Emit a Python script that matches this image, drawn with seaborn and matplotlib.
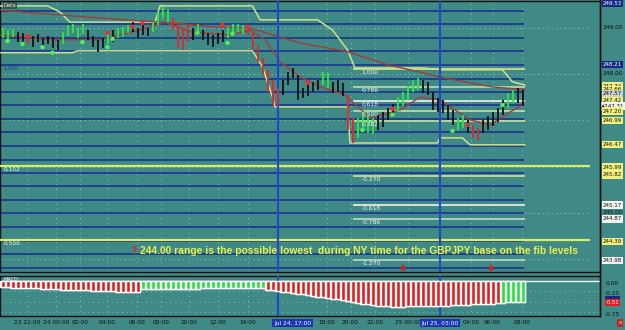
import numpy as np
import pandas as pd
import matplotlib
matplotlib.use("Agg")
import matplotlib.pyplot as plt
import matplotlib.transforms as mtransforms
import seaborn as sns

# ---------------- data ----------------
bar_high = [248.99, 248.95, 248.97, 248.91, 248.89, 248.84, 248.82, 248.87, 248.78, 248.82,
            248.80, 248.74, 248.91, 249.06, 249.08, 248.99, 249.08, 248.95, 248.82, 248.74,
            248.78, 248.89, 248.95, 248.99, 249.02, 249.06, 249.12, 248.99, 249.06, 248.99,
            249.12, 249.34, 249.45, 249.38, 249.21, 249.12, 248.99, 249.06, 248.99, 249.08,
            248.95, 248.89, 248.84, 248.89, 248.95, 249.02, 249.08, 249.08, 249.06, 249.02,
            248.89, 248.63, 248.35, 248.09, 247.87, 247.70, 247.87, 248.04, 248.13, 247.98,
            247.70, 247.76, 247.83, 247.87, 248.04, 248.02, 247.83, 247.87, 247.81, 247.55,
            247.05, 247.05, 247.18, 247.12, 247.05, 247.12, 247.18, 247.27, 247.35, 247.50,
            247.61, 247.74, 247.87, 247.92, 247.87, 247.83, 247.61, 247.48, 247.44, 247.33,
            247.22, 247.05, 247.12, 247.01, 246.90, 246.84, 247.01, 247.09, 247.18, 247.27,
            247.44, 247.59, 247.66, 247.70, 247.66]
bar_low = [248.78, 248.74, 248.80, 248.69, 248.63, 248.65, 248.58, 248.69, 248.61, 248.65,
           248.56, 248.52, 248.65, 248.82, 248.89, 248.78, 248.87, 248.74, 248.58, 248.48,
           248.56, 248.65, 248.69, 248.78, 248.80, 248.89, 248.91, 248.78, 248.84, 248.82,
           248.91, 249.06, 249.21, 249.12, 248.95, 248.56, 248.52, 248.69, 248.74, 248.87,
           248.74, 248.63, 248.58, 248.65, 248.69, 248.78, 248.87, 248.91, 248.87, 248.84,
           248.52, 248.26, 247.98, 247.61, 247.33, 247.31, 247.55, 247.76, 247.92, 247.44,
           247.48, 247.53, 247.61, 247.66, 247.76, 247.70, 247.59, 247.61, 247.53, 246.79,
           246.51, 246.62, 246.84, 246.73, 246.71, 246.79, 246.86, 247.01, 247.07, 247.18,
           247.31, 247.44, 247.61, 247.66, 247.59, 247.55, 247.22, 247.18, 247.16, 247.01,
           246.90, 246.79, 246.84, 246.73, 246.62, 246.58, 246.73, 246.79, 246.88, 246.96,
           247.12, 247.27, 247.38, 247.38, 247.31]
bar_trend = "GGGKKRKKKKKKGGGGGKKKKGKGGGKKKKGGGGRRRRKGKKKKKGGGGRRRRRRRKKKKKKKKGGKKKRRGGGGKKKKGGGGGKKKKKKKGGKRRKKKKKGGKK"

green_dot_i = [1, 4, 8, 10, 16, 21, 22, 39, 45, 46, 72, 78, 90, 100]
green_dot_p = [248.71, 248.65, 248.58, 248.46, 248.69, 248.58, 248.76, 248.89, 248.67, 248.87,
               246.79, 247.12, 246.77, 247.33]
red_dot_i = [5, 21, 26, 28, 44, 49, 61, 78, 93]
red_dot_p = [248.82, 248.89, 249.02, 249.10, 249.06, 249.02, 247.81, 247.25, 246.90]

slow_ma_i = [-0.5, 6, 19.5, 34, 41.5, 49.5, 59.5, 69, 77, 83.5, 88, 98, 104.5]
slow_ma_p = [249.38, 249.32, 249.21, 249.10, 249.02, 248.99, 248.67, 248.48, 248.20, 248.04,
             247.92, 247.72, 247.66]
fast_ma_i = [-0.5, 9.5, 19.5, 27.5, 32.5, 37.5, 45.5, 49.5, 52.5, 55.5, 59.5, 63.5, 68.5,
             73.5, 79.5, 83.5, 87.5, 93.5, 97.5, 101.5, 104]
fast_ma_p = [248.84, 248.74, 248.74, 248.95, 249.12, 248.91, 248.84, 248.95, 248.74, 248.26,
             247.94, 247.72, 247.55, 247.05, 247.22, 247.50, 247.44, 247.01, 246.90, 247.18,
             247.33]
upper_ch_i = [-0.5, 9, 11.5, 13, 13.5, 30.5, 31.5, 50, 51.5, 63, 66, 69, 70.5, 84, 88, 100,
              102, 104.5]
upper_ch_p = [249.47, 249.47, 249.34, 249.17, 249.12, 249.12, 249.47, 249.47, 249.17, 249.17,
              248.95, 248.52, 248.13, 248.13, 248.09, 248.09, 247.83, 247.76]
lower_ch_i = [-0.5, 14, 15, 50, 52, 54, 54.5, 69, 69.5, 87, 87.5, 92, 93.5, 104.5]
lower_ch_p = [248.46, 248.46, 248.50, 248.50, 248.15, 247.50, 247.29, 247.29, 246.51, 246.51,
              246.62, 246.62, 246.47, 246.47]

pivot_levels = [249.36, 249.07, 248.78, 248.49, 248.19, 247.90, 247.61, 247.32, 247.03, 246.74,
                246.44, 246.15, 245.86, 245.57, 245.28, 244.99, 244.70, 244.40, 244.11, 243.82]

fib_price_1 = 248.11
fib_price_0 = 246.29
fib_levels = [1.0, 0.786, 0.618, 0.5, 0.382, -0.27, -0.618, -0.786, -1.27]
fib_labels = ["1.000", "0.786", "0.618", "0.500", "0.382", "-0.270", "-0.618", "-0.786", "-1.270"]
fib_colors = ["#d4e488", "#bcdcaa", "#eef3e6", "#c6e0a4", "#c6e0a4", "#d4e488", "#eef3e6",
              "#c2d8c8", "#c2d8c8"]

long_fib_prices = [246.01, 244.42]
long_fib_labels = ["0.102", "0.500"]

grid_prices = [249.0, 248.0, 247.0, 246.0, 245.0, 244.0]

vline_i = [55.1, 87.5]
vline_labels = ["Jul 24, 17:00", "Jul 25, 03:00"]
vline_label_pos = [58.0, 87.5]

tick_pos = [4.9, 10.7, 15.5, 20.9, 26.9, 31.7, 37.3, 43.1, 49.1, 64.8, 69.6, 74.5, 81.1,
            93.7, 98.0, 103.9]
tick_labels = ["23 22:00", "24 00:00", "02:00", "04:00", "06:00", "08:00", "10:00", "12:00",
               "14:00", "18:00", "20:00", "22:00", "25 00:00", "04:00", "06:00", "08:00"]

right_prices = [249.53, 249.00, 248.21, 248.00, 247.74, 247.66, 247.57, 247.42, 247.31, 247.20,
                246.99, 246.47, 245.99, 245.82, 245.17, 245.00, 244.87, 244.39, 243.98]
right_styles = ["blue", "plain", "blue", "plain", "yellow", "yellow", "grey", "yellow", "mark",
                "yellow", "yellow", "yellow", "yellow", "yellow", "white", "plain", "white",
                "yellow", "white"]

hist_vals = [-0.15, -0.15, -0.16, -0.16, -0.17, -0.17, -0.18, -0.18, -0.19, -0.19,
             -0.20, -0.20, -0.21, -0.21, -0.22, -0.22, -0.23, -0.23, -0.24, -0.24,
             -0.25, -0.25, -0.25, -0.26, -0.26, -0.26, -0.27, -0.27,
             -0.20, -0.20, -0.20, -0.20, -0.19, -0.19, -0.19, -0.19, -0.19, -0.19,
             -0.19, -0.19, -0.18, -0.18, -0.18, -0.18, -0.18, -0.18, -0.18, -0.17,
             -0.17, -0.17, -0.17, -0.17, -0.17,
             -0.22, -0.23, -0.25, -0.26, -0.28, -0.29, -0.31, -0.32, -0.34, -0.36,
             -0.38, -0.39, -0.41, -0.43, -0.45, -0.47, -0.49, -0.51, -0.53, -0.55,
             -0.57, -0.58, -0.60, -0.61, -0.62, -0.63, -0.63, -0.63, -0.62, -0.62,
             -0.62, -0.61, -0.61, -0.61, -0.60, -0.60, -0.60, -0.59, -0.59, -0.58,
             -0.58, -0.57, -0.57, -0.56, -0.55, -0.55, -0.54,
             -0.53, -0.52, -0.51, -0.50, -0.50]
hist_trend = "R" * 28 + "G" * 25 + "R" * 47 + "G" * 5
hist_labels = ["0.00", "-0.25", "-0.75"]
hist_label_vals = [0.0, -0.25, -0.75]

arrow_i = [80.1, 97.7]
arrow_p0 = 243.79
arrow_p1 = 243.95

note_text = "244.00 range is the possible lowest  during NY time for the GBPJPY base on the fib levels"
note_i = 27.6
note_p = 244.18

# ---------------- style ----------------
BG = "#3f8a87"
sns.set_style("dark", {"axes.facecolor": BG, "figure.facecolor": BG})
plt.rcParams["font.family"] = ["DejaVu Sans"]

W, H = 625, 330
fig = plt.figure(figsize=(W / 100, H / 100), dpi=100, facecolor=BG)

PX_PER_UNIT = 46.3
P_AT_TOP = 249.598

ax = fig.add_axes([0, 1 - 272 / H, 600 / W, 271 / H])
ax.set_facecolor(BG)
ax.set_xlim(-0.5, 119.5)
ax.set_ylim(P_AT_TOP - 272 / PX_PER_UNIT, P_AT_TOP - 1 / PX_PER_UNIT)

ax2 = fig.add_axes([0, 1 - 316 / H, 600 / W, 40 / H])
ax2.set_facecolor(BG)
ax2.set_xlim(-0.5, 119.5)
ax2.set_ylim(-35 / 41, 5 / 41)

for a in (ax, ax2):
    a.set_xticks([])
    a.set_yticks([])
    a.grid(False)
    for s in a.spines.values():
        s.set_color("#101010")
        s.set_linewidth(1.0)
        s.set_visible(True)

# dotted grid
ax.hlines(grid_prices, -0.5, 117.5, colors="#86bcb4", linestyles=(0, (1, 3)), lw=0.8, zorder=1)
for p in tick_pos:
    ax.axvline(p, color="#86bcb4", ls=(0, (1, 4)), lw=0.7, zorder=1)
    ax2.axvline(p, color="#86bcb4", ls=(0, (1, 4)), lw=0.7, zorder=1)
for v in [-0.25, -0.5, -0.75]:
    ax2.axhline(v, color="#86bcb4", ls=(0, (1, 4)), lw=0.7, zorder=1)

# pivot lines
ax.hlines(pivot_levels, -0.5, 104.3, colors="#1d3b8e", lw=1.3, zorder=2)

# long yellow fib lines
ax.hlines(long_fib_prices, -0.5, 117.5, colors="#d8ee5c", lw=1.6, zorder=3)
for p, lab in zip(long_fib_prices, long_fib_labels):
    ax.text(0.3, p - 0.02, lab, color="#f4f4e8", fontsize=4.2, va="top", ha="left", zorder=6)

# fib retracement lines
fib_prices = [fib_price_0 + f * (fib_price_1 - fib_price_0) for f in fib_levels]
for p, lab, c in zip(fib_prices, fib_labels, fib_colors):
    ax.hlines(p, 70.0, 104.5, colors=c, lw=1.2, zorder=3)
    ax.text(71.8, p - 0.015, lab, color="#f0f4ec", fontsize=4.3, va="top", ha="left", zorder=6)

# channels and moving averages (seaborn)
ch_col = "#cfe08a"
sns.lineplot(x=upper_ch_i, y=upper_ch_p, ax=ax, color=ch_col, lw=1.1, sort=False,
             estimator=None, zorder=4)
sns.lineplot(x=lower_ch_i, y=lower_ch_p, ax=ax, color=ch_col, lw=1.1, sort=False,
             estimator=None, zorder=4)
sns.lineplot(x=slow_ma_i, y=slow_ma_p, ax=ax, color="#a33a3a", lw=1.0, sort=False,
             estimator=None, zorder=4)
sns.lineplot(x=fast_ma_i, y=fast_ma_p, ax=ax, color="#a63c3c", lw=1.0, sort=False,
             estimator=None, zorder=4)

# price bars
bars = pd.DataFrame({"i": np.arange(len(bar_high)), "hi": bar_high, "lo": bar_low,
                     "trend": list(bar_trend)})
trend_colors = {"G": "#2ee83a", "R": "#e02828", "K": "#111111"}
for key, col in trend_colors.items():
    d = bars[bars["trend"] == key]
    ax.vlines(d["i"], d["lo"], d["hi"], colors=col, lw=1.3, zorder=5)

# signal dots
sns.scatterplot(x=green_dot_i, y=green_dot_p, ax=ax, color="#4cf25a", s=10, edgecolor="none",
                zorder=6)
sns.scatterplot(x=red_dot_i, y=red_dot_p, ax=ax, color="#e83030", s=10, edgecolor="none",
                zorder=6)

# vertical session lines
for v in vline_i:
    ax.axvline(v, color="#2248c8", lw=1.5, zorder=4)
    ax2.axvline(v, color="#2248c8", lw=1.5, zorder=4)

# annotation text
q = ax.text(note_i - 0.6, note_p, "?", color="#e02020", fontsize=8, fontweight="bold",
            family=["Liberation Sans", "DejaVu Sans"], va="center", ha="right", zorder=7)
t = ax.text(note_i, note_p, note_text, color="#e8f04a", fontsize=8, fontweight="bold",
            family=["Liberation Sans", "DejaVu Sans"], va="center", ha="left", zorder=7)
fig.canvas.draw()
bb = t.get_window_extent()
fs = 8 * 437.0 / bb.width
t.set_fontsize(fs)
q.set_fontsize(fs * 1.05)

for a_i in arrow_i:
    ax.annotate("", xy=(a_i, arrow_p1), xytext=(a_i, arrow_p0),
                arrowprops=dict(arrowstyle="-|>", color="#d82020", lw=1.6, mutation_scale=5),
                zorder=7)

# small corner labels
ax.text(0.2, P_AT_TOP - 3 / PX_PER_UNIT, "Data", color="#f0f0f0", fontsize=3.8, va="top",
        ha="left", bbox=dict(boxstyle="square,pad=0.15", fc="#3a5048", ec="none"), zorder=8)
ax.text(0.2, P_AT_TOP - 68 / PX_PER_UNIT, "1.000", color="#1a3a9a", fontsize=3.8,
        va="center", ha="left", zorder=8)

# indicator histogram
ax2.axhline(0, color="#f0f0f0", lw=1.0, zorder=2)
hist = pd.DataFrame({"i": np.arange(len(hist_vals)), "v": hist_vals, "trend": list(hist_trend)})
ax2.bar(hist["i"], hist["v"], width=1.0, color="#eef0ee", zorder=3)
hist_cols = {"R": "#e02020", "G": "#22e040"}
for key, col in hist_cols.items():
    d = hist[hist["trend"] == key]
    ax2.bar(d["i"], d["v"], width=0.8, color=col, zorder=4)
ax2.text(0.3, 0.09, "MACD", color="#f4f4f4", fontsize=3.6, va="top", ha="left", zorder=8)

# right-hand price labels
tr_r = mtransforms.blended_transform_factory(fig.transFigure, ax.transData)
box_styles = {
    "blue": ("#132a86", "#ffffff"),
    "yellow": ("#f2f07a", "#101010"),
    "grey": ("#c8d2c8", "#101010"),
    "white": ("#f4f4ee", "#101010"),
    "mark": ("#f4f4ee", "#101010"),
}
xr = 612.5 / W
for p, st in zip(right_prices, right_styles):
    lab = f"{p:.2f}"
    if st == "plain":
        ax.text(xr, p, lab, transform=tr_r, fontsize=4.2, color="#101010", ha="center",
                va="center", clip_on=False)
    else:
        fc, tc = box_styles[st]
        if st == "mark":
            lab = "\u25B2" + lab
        ax.text(xr, p, lab, transform=tr_r, fontsize=4.0, color=tc, ha="center", va="center",
                clip_on=False, bbox=dict(boxstyle="square,pad=0.2", fc=fc, ec="none"))

tr_r2 = mtransforms.blended_transform_factory(fig.transFigure, ax2.transData)
for v, lab in zip(hist_label_vals, hist_labels):
    ax2.text(xr, v, lab, transform=tr_r2, fontsize=4.2, color="#101010", ha="center",
             va="top", clip_on=False)
ax2.text(xr, -0.44, "-0.44", transform=tr_r2, fontsize=3.6, color="#132a86", ha="center",
         va="center", clip_on=False, bbox=dict(boxstyle="square,pad=0.2", fc="#132a86", ec="none"))
ax2.text(xr, -0.53, "-0.51", transform=tr_r2, fontsize=3.8, color="#ffffff", ha="center",
         va="center", clip_on=False, bbox=dict(boxstyle="square,pad=0.2", fc="#e02020", ec="none"))

# right separator line
fig.add_artist(plt.Line2D([600 / W, 600 / W], [1 - 316 / H, 1.0], color="#101010", lw=1.0))

# time axis labels
tr_t = mtransforms.blended_transform_factory(ax2.transData, fig.transFigure)
ty = 1 - 323 / H
for p, lab in zip(tick_pos, tick_labels):
    ax2.text(p, ty, lab, transform=tr_t, fontsize=4.2, color="#101010", ha="center",
             va="center", clip_on=False, zorder=5)
for v, lab in zip(vline_label_pos, vline_labels):
    ax2.text(v, ty, lab, transform=tr_t, fontsize=4.2, color="#ffffff", ha="center",
             va="center", clip_on=False, zorder=9,
             bbox=dict(boxstyle="square,pad=0.25", fc="#1a36b4", ec="none"))
fig.text(620 / W, ty, "x", fontsize=4, color="#ffffff", ha="center", va="center",
         bbox=dict(boxstyle="square,pad=0.2", fc="#d02020", ec="none"))

fig.savefig("out.png", dpi=100, facecolor=BG)
